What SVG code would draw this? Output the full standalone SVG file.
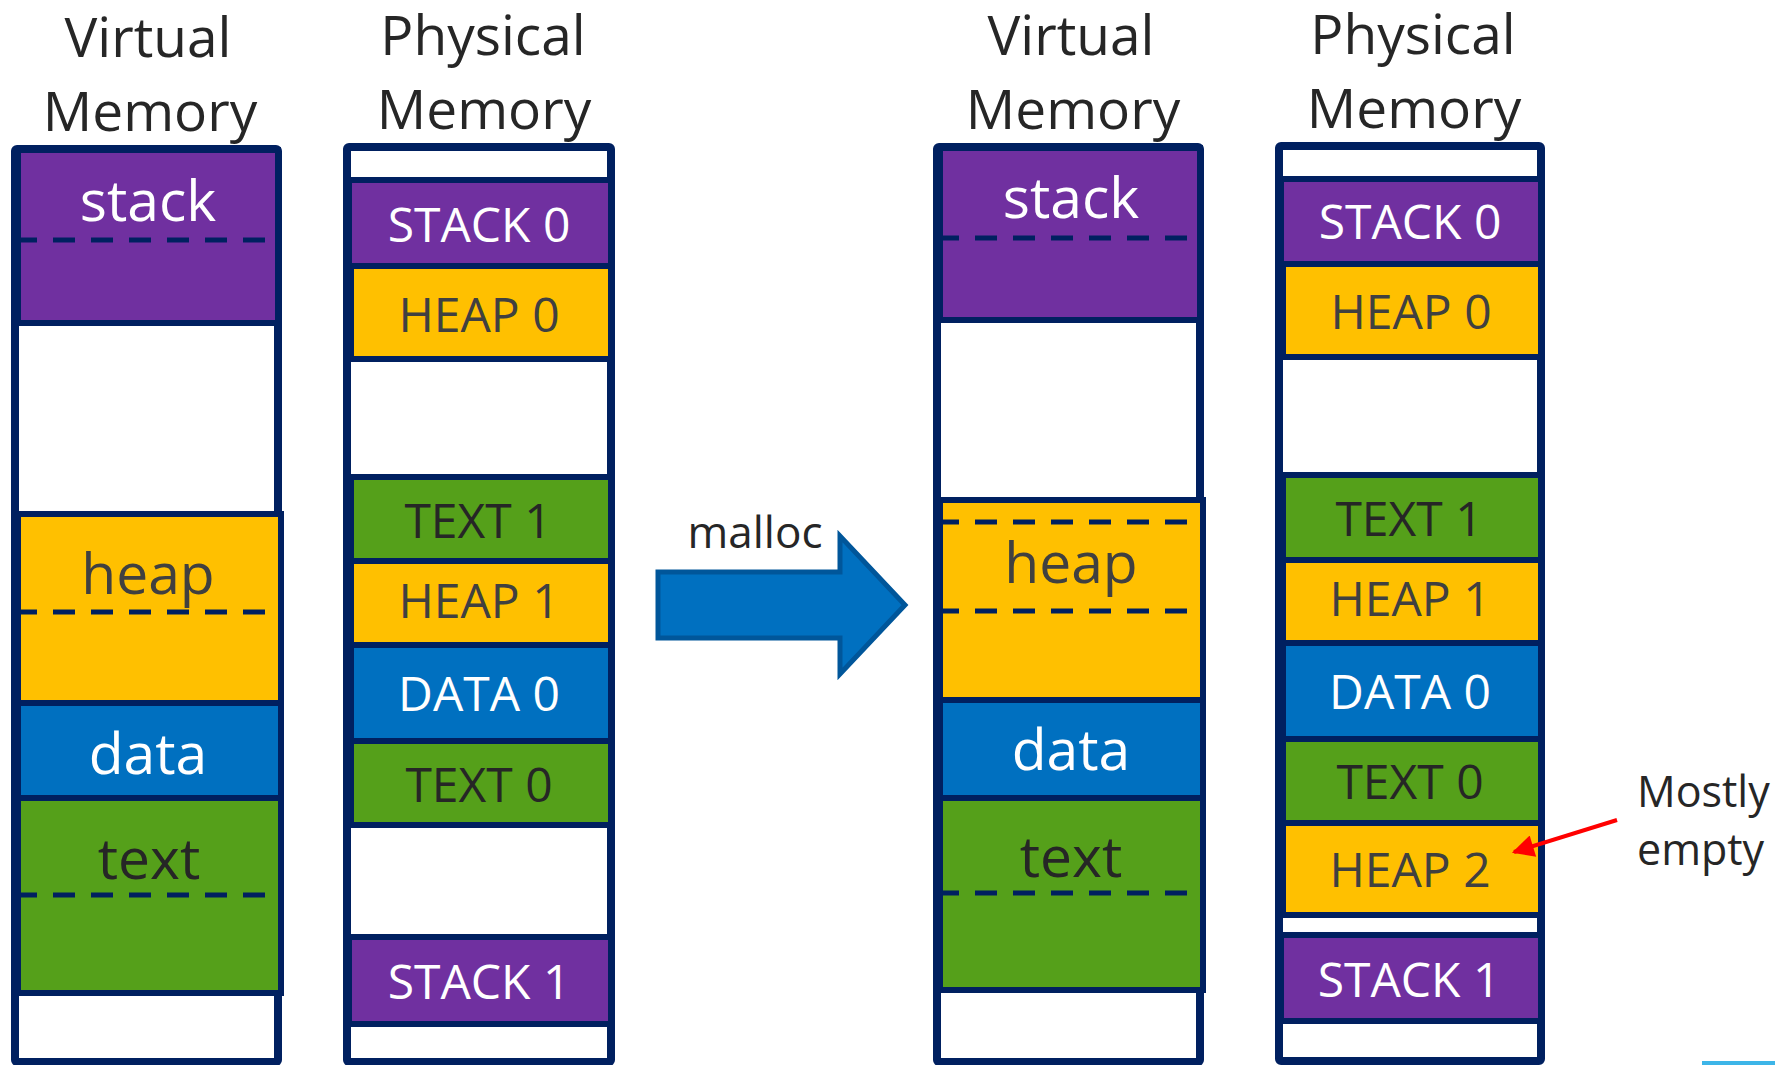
<svg xmlns="http://www.w3.org/2000/svg" width="1775" height="1065" viewBox="0 0 1775 1065">
<style>
  .col{fill:#FFFFFF;stroke:#002060;stroke-width:8}
  .blk{stroke:#002060;stroke-width:6}
  .wht{fill:#FFFFFF}
  .pur{fill:#7030A0}
  .yel{fill:#FFC000}
  .blu{fill:#0070C0}
  .grn{fill:#55A01A}
  .dash{stroke:#002060;stroke-width:5;stroke-dasharray:22 16;fill:none}
  text{font-family:"Open Sans","Liberation Sans",sans-serif;text-anchor:middle}
  .title{font-size:55px;fill:#262626}
  .vl{font-size:57px}
  .pl{font-size:48px}
  .tw{fill:#FFFFFF}
  .tg{fill:#404040}
  .tk{fill:#262626}
  .note{font-size:43px;fill:#262626;text-anchor:start}
</style>
<defs>
  <marker id="redhead" viewBox="0 0 10 10" refX="9" refY="5" markerWidth="6" markerHeight="5.5" orient="auto" markerUnits="strokeWidth">
    <path d="M0,0 L10,5 L0,10 Z" fill="#FF0000"/>
  </marker>
</defs>

<!-- Titles -->
<g id="title-virtual-1">
  <text class="title" x="148" y="57">Virtual</text>
  <text class="title" x="150" y="131">Memory</text>
</g>
<g id="title-physical-1">
  <text class="title" x="483" y="55">Physical</text>
  <text class="title" x="484" y="129">Memory</text>
</g>
<g id="title-virtual-2">
  <text class="title" x="1071" y="55">Virtual</text>
  <text class="title" x="1073" y="129">Memory</text>
</g>
<g id="title-physical-2">
  <text class="title" x="1413" y="54">Physical</text>
  <text class="title" x="1414" y="128">Memory</text>
</g>

<!-- Column A: virtual memory before -->
<g id="virtual-before">
  <rect class="col" x="15" y="149" width="263" height="913" rx="2"/>
  <rect class="blk pur" x="18" y="150" width="260" height="173"/>
  <line class="dash" x1="19" y1="240" x2="274" y2="240" stroke-dashoffset="4"/>
  <text class="vl tw" x="148" y="221">stack</text>
  <rect class="blk yel" x="18" y="514" width="263" height="189"/>
  <line class="dash" x1="19" y1="612" x2="274" y2="612" stroke-dashoffset="4"/>
  <text class="vl tg" x="148" y="594">heap</text>
  <rect class="blk blu" x="18" y="703" width="263" height="95"/>
  <text class="vl tw" x="148" y="774">data</text>
  <rect class="blk grn" x="18" y="798" width="263" height="195"/>
  <line class="dash" x1="19" y1="895" x2="276" y2="895" stroke-dashoffset="4"/>
  <text class="vl tk" x="149" y="879">text</text>
</g>

<!-- Column B: physical memory before -->
<g id="physical-before">
  <rect class="col" x="347" y="147" width="264" height="915" rx="2"/>
  <rect class="blk pur" x="349" y="180" width="262" height="86"/>
  <text class="pl tw" x="479" y="242">STACK 0</text>
  <rect class="blk yel" x="351" y="266" width="260" height="93"/>
  <text class="pl tg" x="479" y="332">HEAP 0</text>
  <rect class="blk grn" x="351" y="477" width="260" height="84"/>
  <text class="pl tk" x="478" y="538">TEXT 1</text>
  <rect class="blk yel" x="351" y="561" width="260" height="84"/>
  <text class="pl tg" x="479" y="618">HEAP 1</text>
  <rect class="blk blu" x="351" y="645" width="260" height="96"/>
  <text class="pl tw" x="479" y="711">DATA 0</text>
  <rect class="blk grn" x="351" y="741" width="260" height="84"/>
  <text class="pl tk" x="479" y="802">TEXT 0</text>
  <rect class="blk pur" x="349" y="937" width="262" height="87"/>
  <text class="pl tw" x="479" y="999">STACK 1</text>
</g>

<!-- Column C: virtual memory after -->
<g id="virtual-after">
  <rect class="col" x="937" y="147" width="263" height="915" rx="2"/>
  <rect class="blk pur" x="940" y="148" width="260" height="172"/>
  <line class="dash" x1="941" y1="238" x2="1197" y2="238" stroke-dashoffset="4"/>
  <text class="vl tw" x="1071" y="218">stack</text>
  <rect class="blk yel" x="940" y="500" width="263" height="200"/>
  <line class="dash" x1="941" y1="522" x2="1197" y2="522" stroke-dashoffset="4"/>
  <line class="dash" x1="941" y1="611" x2="1197" y2="611" stroke-dashoffset="4"/>
  <text class="vl tg" x="1071" y="583">heap</text>
  <rect class="blk blu" x="940" y="700" width="263" height="98"/>
  <text class="vl tw" x="1071" y="770">data</text>
  <rect class="blk grn" x="940" y="798" width="263" height="192"/>
  <line class="dash" x1="941" y1="893" x2="1199" y2="893" stroke-dashoffset="4"/>
  <text class="vl tk" x="1071" y="877">text</text>
</g>

<!-- Column D: physical memory after -->
<g id="physical-after">
  <rect class="col" x="1279" y="146" width="262" height="915" rx="2"/>
  <rect class="blk pur" x="1281" y="179" width="260" height="85"/>
  <text class="pl tw" x="1410" y="239">STACK 0</text>
  <rect class="blk yel" x="1283" y="264" width="258" height="93"/>
  <text class="pl tg" x="1411" y="329">HEAP 0</text>
  <rect class="blk grn" x="1283" y="475" width="258" height="85"/>
  <text class="pl tk" x="1409" y="536">TEXT 1</text>
  <rect class="blk yel" x="1283" y="560" width="258" height="83"/>
  <text class="pl tg" x="1410" y="616">HEAP 1</text>
  <rect class="blk blu" x="1283" y="643" width="258" height="96"/>
  <text class="pl tw" x="1410" y="709">DATA 0</text>
  <rect class="blk grn" x="1283" y="739" width="258" height="84"/>
  <text class="pl tk" x="1410" y="799">TEXT 0</text>
  <rect class="blk yel" x="1283" y="823" width="258" height="92"/>
  <text class="pl tg" x="1410" y="887">HEAP 2</text>
  <rect class="blk pur" x="1281" y="935" width="260" height="86"/>
  <text class="pl tw" x="1409" y="997">STACK 1</text>
</g>

<!-- Annotations -->
<g id="label-malloc">
  <text x="755" y="548" style="font-size:44px;fill:#262626">malloc</text>
</g>
<g id="label-mostly-empty">
  <text class="note" x="1637" y="807">Mostly</text>
  <text class="note" x="1637" y="865">empty</text>
</g>

<!-- Connectors -->
<g id="connectors">
  <polygon id="malloc-arrow" points="658,572 840,572 840,536 905,605 840,674 840,638 658,638" fill="#0070C0" stroke="#00569A" stroke-width="5" stroke-linejoin="miter"/>
  <line id="mostly-empty-arrow" x1="1617" y1="820" x2="1514" y2="852" stroke="#FF0000" stroke-width="4" marker-end="url(#redhead)"/>
</g>

<rect x="1702" y="1061" width="73" height="4" fill="#3DB5E8"/>
</svg>
